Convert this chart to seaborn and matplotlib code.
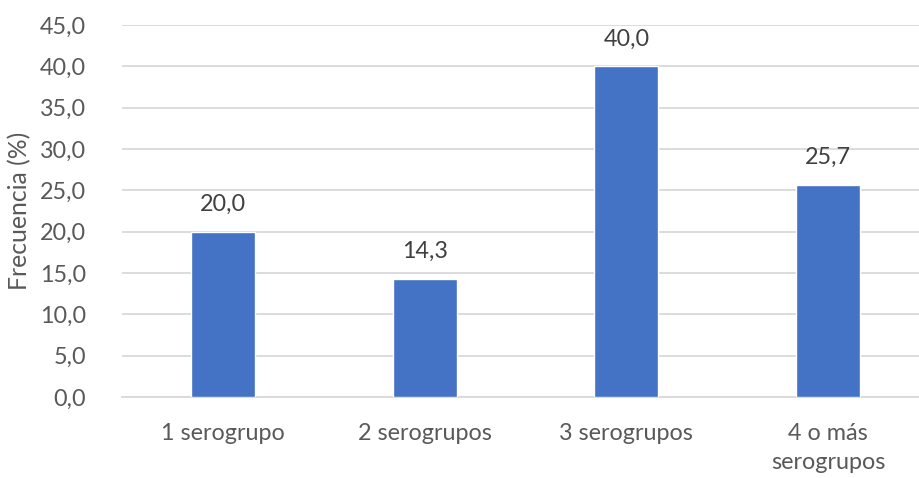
import matplotlib
matplotlib.use("Agg")
import matplotlib.pyplot as plt
import seaborn as sns
import pandas as pd

categorias = ["1 serogrupo", "2 serogrupos", "3 serogrupos", "4 o más\nserogrupos"]
frecuencia = [20.0, 14.3, 40.0, 25.7]
y_ticks = [0, 5, 10, 15, 20, 25, 30, 35, 40, 45]

sns.set_theme(style="white")
plt.rcParams["font.family"] = ["Lato", "DejaVu Sans"]

df = pd.DataFrame({"categoria": categorias, "frecuencia": frecuencia})

fig = plt.figure(figsize=(9.19, 4.78), dpi=100)
ax = fig.add_axes([122 / 919, 1 - 397 / 478, 807 / 919, 372 / 478])

sns.barplot(data=df, x="categoria", y="frecuencia", color="#4472C4",
            width=0.317, saturation=1, ax=ax, zorder=3)

fs = 16.8
ax.set_ylim(0, 45)
ax.set_yticks(y_ticks)
ax.set_yticklabels([f"{v:.1f}".replace(".", ",") for v in y_ticks])
ax.yaxis.grid(True, color="#D9D9D9", linewidth=1.3, zorder=0)
ax.set_axisbelow(True)
for side in ["top", "right", "left"]:
    ax.spines[side].set_visible(False)
ax.spines["bottom"].set_color("#D9D9D9")
ax.spines["bottom"].set_linewidth(1.3)

ax.tick_params(axis="y", length=0, pad=26, labelsize=fs, labelcolor="#595959")
ax.tick_params(axis="x", length=0, pad=19, labelsize=fs, labelcolor="#595959")
for lbl in ax.get_xticklabels():
    lbl.set_linespacing(1.45)
ax.set_xlabel("")
ax.set_ylabel("Frecuencia (%)", fontsize=fs + 1, color="#595959")
ax.yaxis.set_label_coords(-91 / 807, 0.5)

for cont in ax.containers:
    ax.bar_label(cont, labels=[f"{v:.1f}".replace(".", ",") for v in frecuencia],
                 padding=12, fontsize=fs, color="#404040")

fig.savefig("out.png", dpi=100)
